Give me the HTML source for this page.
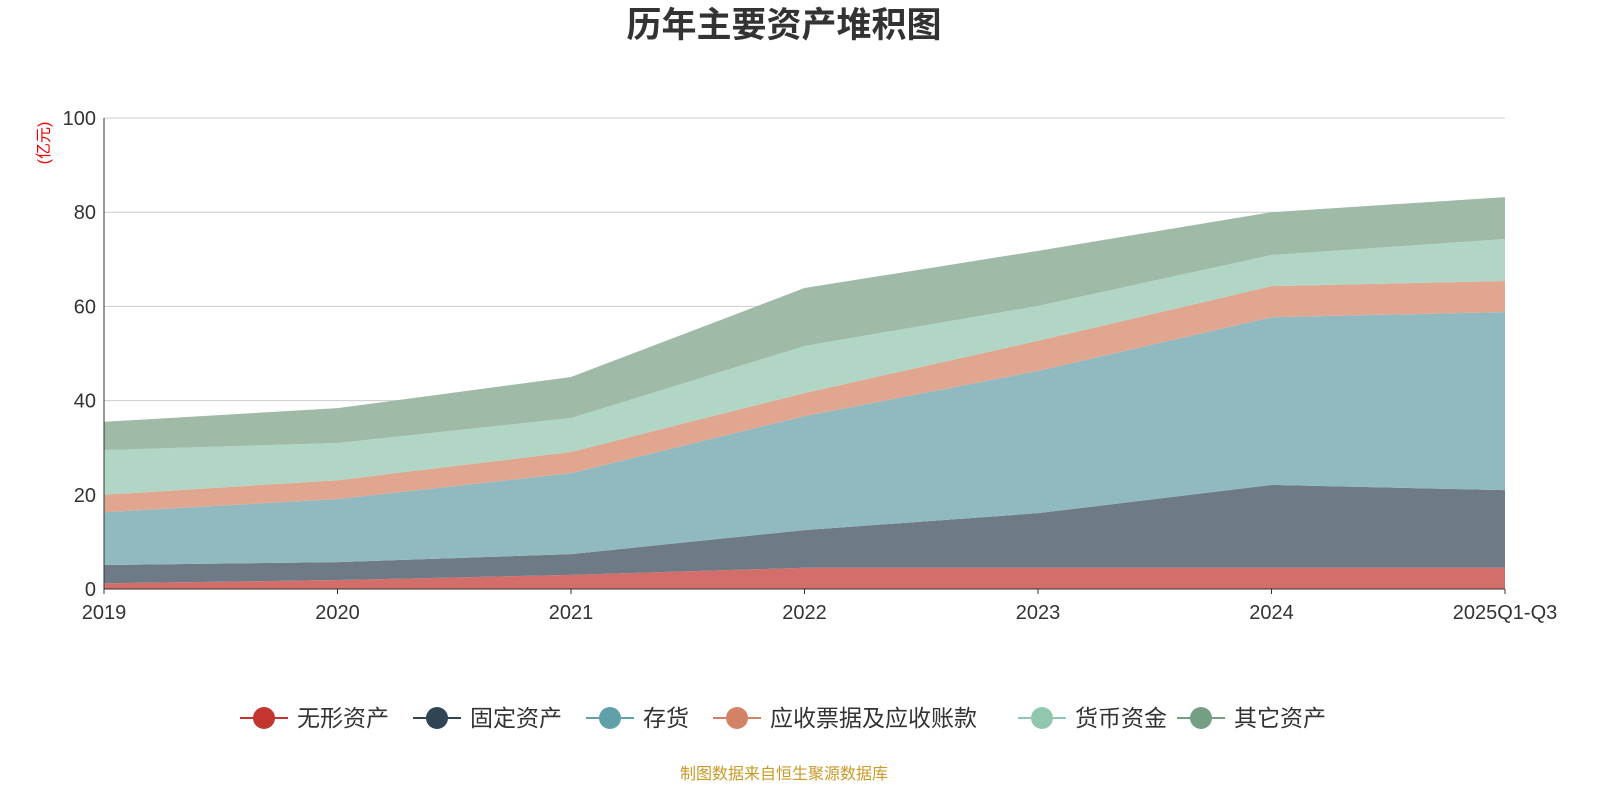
<!DOCTYPE html>
<html><head><meta charset="utf-8"><style>
body{margin:0;background:#fff;}
svg text{font-family:"Liberation Sans","Noto Sans CJK SC",sans-serif;}
</style></head><body>
<svg id="chart" width="1600" height="800" xmlns="http://www.w3.org/2000/svg">
<text x="784" y="37" text-anchor="middle" font-size="35" font-weight="bold" fill="#333">历年主要资产堆积图</text>
<text transform="translate(49,143) rotate(-90)" text-anchor="middle" font-size="16" fill="#e00">(亿元)</text>
<g id="grid"></g><g id="areas"></g><g id="axes"></g><g id="legend"></g>
<text x="784" y="779" text-anchor="middle" font-size="16" fill="#c89a28">制图数据来自恒生聚源数据库</text>
</svg>
<script>
const categories=["2019","2020","2021","2022","2023","2024","2025Q1-Q3"];
const seriesNames=["无形资产","固定资产","存货","应收票据及应收账款","货币资金","其它资产"];
const intangible=[1.2,1.9,3.0,4.5,4.5,4.5,4.5];
const fixedAssets=[3.9,3.8,4.4,8.0,11.6,17.6,16.5];
const inventory=[11.2,13.4,17.2,24.2,30.2,35.6,37.8];
const receivables=[3.7,4.0,4.5,4.9,6.4,6.6,6.6];
const cash=[9.5,7.9,7.2,10.0,7.4,6.6,8.9];
const otherAssets=[6.0,7.4,8.7,12.3,11.7,9.1,8.9];
const yTicks=[0,20,40,60,80,100];
const series=[intangible,fixedAssets,inventory,receivables,cash,otherAssets];
const fills=["#d46e6a","#6e7b87","#91bac0","#e0a690","#b1d6c6","#9fbaa6"];
const markers=["#c23531","#2f4554","#61a0a8","#d48265","#91c7ae","#749f83"];
const NS="http://www.w3.org/2000/svg";
const x0=104,x1=1505,y0=589,y1=118;
const xs=i=>x0+(x1-x0)*i/(categories.length-1);
const ys=v=>y0-(y0-y1)*v/100;
function mk(t,a,p){const e=document.createElementNS(NS,t);for(const k in a)e.setAttribute(k,a[k]);p.appendChild(e);return e;}
const grid=document.getElementById('grid'),axes=document.getElementById('axes'),areas=document.getElementById('areas'),legend=document.getElementById('legend');
yTicks.forEach(v=>{
 const l=mk('line',{x1:x0,x2:x1,y1:ys(v),y2:ys(v),stroke:"#ccc","stroke-width":1},grid);
 
 
 const t=mk('text',{x:x0-8,y:ys(v)+7,"text-anchor":"end","font-size":20,fill:"#333"},axes);t.textContent=v;
 
 
});
let base=categories.map(()=>0);
series.forEach((s,k)=>{
 const top=base.map((b,i)=>b+s[i]);
 let d=top.map((v,i)=>(i?'L':'M')+xs(i)+','+ys(v)).join(' ');
 for(let i=categories.length-1;i>=0;i--)d+=' L'+xs(i)+','+ys(base[i]);
 const p=mk('path',{d:d+' Z',fill:fills[k]},areas);
 
 
 base=top;
});
mk('line',{x1:x0,x2:x0,y1:y1,y2:y0,stroke:"#333"},axes);
mk('line',{x1:x0,x2:x1,y1:y0,y2:y0,stroke:"#333"},axes);
categories.forEach((c,i)=>{
 mk('line',{x1:xs(i),x2:xs(i),y1:y0,y2:y0+5,stroke:"#333"},axes);
 const t=mk('text',{x:xs(i),y:y0+30,"text-anchor":"middle","font-size":20,fill:"#333"},axes);t.textContent=c;
 
 
});
const lx=[240,413,586,713,1018,1177];
seriesNames.forEach((n,k)=>{
 const g=mk('g',{},legend);
 
 
 mk('line',{x1:lx[k],x2:lx[k]+48,y1:718,y2:718,stroke:markers[k],"stroke-width":2},g);
 mk('circle',{cx:lx[k]+24,cy:718,r:11,fill:markers[k]},g);
 const t=mk('text',{x:lx[k]+57,y:726,"font-size":23,fill:"#333"},g);t.textContent=n;
});
</script>
</body></html>
